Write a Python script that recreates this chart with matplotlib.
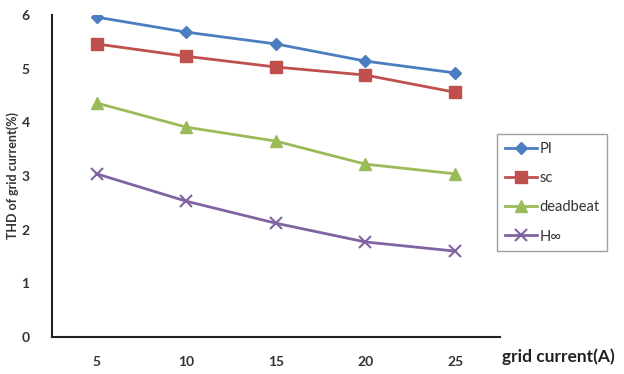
import matplotlib
matplotlib.use("Agg")
import matplotlib.pyplot as plt

categories = ["5", "10", "15", "20", "25"]
pi_vals = [5.96, 5.68, 5.46, 5.14, 4.92]
sc_vals = [5.46, 5.23, 5.03, 4.88, 4.56]
deadbeat_vals = [4.36, 3.91, 3.65, 3.22, 3.04]
hinf_vals = [3.04, 2.53, 2.12, 1.77, 1.60]
yticks = [0, 1, 2, 3, 4, 5, 6]

plt.rcParams['font.family'] = ['Lato', 'DejaVu Sans']

fig = plt.figure(figsize=(6.24, 3.74), dpi=100)
ax = fig.add_axes([0.083, 0.099, 0.718, 0.861])

x = list(range(len(categories)))
ax.plot(x, pi_vals, color="#4A7EC0", marker="D", markersize=6, linewidth=2, label="PI")
ax.plot(x, sc_vals, color="#C0504D", marker="s", markersize=8, linewidth=2, label="sc")
ax.plot(x, deadbeat_vals, color="#9BBB59", marker="^", markersize=8, linewidth=2, label="deadbeat")
ax.plot(x, hinf_vals, color="#8064A2", marker="x", markersize=8, markeredgewidth=1.5, linewidth=2, label="H∞")

ax.set_xlim(-0.5, len(categories) - 0.5)
ax.set_ylim(0, 6)
ax.set_xticks(x)
ax.set_xticklabels(categories)
ax.set_yticks(yticks)
ax.tick_params(axis="both", length=0, labelsize=10, colors="#333333")
ax.tick_params(axis="x", pad=14)
ax.tick_params(axis="y", pad=16)
for lbl in ax.get_xticklabels() + ax.get_yticklabels():
    lbl.set_fontweight("bold")

for s in ["top", "right"]:
    ax.spines[s].set_visible(False)
for s in ["left", "bottom"]:
    ax.spines[s].set_color("#222222")
    ax.spines[s].set_linewidth(1.5)

ax.set_ylabel("THD of grid current(%)", fontsize=9, fontweight="bold", color="#333333", labelpad=2)
fig.text(0.985, 0.045, "grid current(A)", fontsize=12.5, fontweight="bold", color="#222222", ha="right", va="center")

leg = ax.legend(loc="upper left", bbox_to_anchor=(0.978, 0.652), frameon=True, fancybox=False,
                edgecolor="#888888", fontsize=10.5, labelspacing=1.05, handlelength=2.2,
                handletextpad=0.2, borderpad=0.5)
leg.get_frame().set_linewidth(1.0)
for t in leg.get_texts():
    t.set_color("#333333")

fig.savefig("out.png", dpi=100)
